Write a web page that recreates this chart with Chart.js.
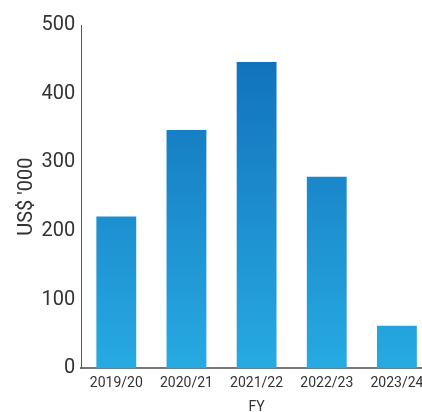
<!DOCTYPE html>
<html>
<head>
<meta charset="utf-8">
<script src="https://cdn.jsdelivr.net/npm/chart.js@4"></script>
<style>
  html, body { margin: 0; padding: 0; background: #fff; overflow: hidden; }
  #wrap { position: relative; width: 432px; height: 416px; }
</style>
</head>
<body>
<div id="wrap"><canvas id="chart"></canvas></div>
<script>
// 数据
const years = ['2019/20', '2020/21', '2021/22', '2022/23', '2023/24'];
const amounts = [221, 347, 446, 279, 62];
const yTicks = [0, 100, 200, 300, 400, 500];

// 按绘图区高度渐变：底部浅蓝，顶部深蓝
function barGradient(context) {
    const chart = context.chart;
    const area = chart.chartArea;
    if (!area) {
        return '#2196d5';
    }
    const g = chart.ctx.createLinearGradient(0, area.bottom, 0, area.top);
    g.addColorStop(0, '#27aae2');
    g.addColorStop(1, '#0f6cb8');
    return g;
}

new Chart(document.getElementById('chart'), {
    type: 'bar',
    data: {
        labels: years,
        datasets: [{
            data: amounts,
            backgroundColor: barGradient,
            borderWidth: 0,
            barPercentage: 0.8,
            categoryPercentage: 0.71
        }]
    },
    options: {
        responsive: true,
        maintainAspectRatio: false,
        animation: false,
        layout: { padding: { top: 25, left: 15, right: 0, bottom: 0 } },
        plugins: { legend: { display: false }, tooltip: { enabled: false } },
        scales: {
            x: {
                grid: { display: false, drawTicks: false },
                border: { display: true, color: '#777', width: 2 },
                ticks: { color: '#333', font: { family: 'Roboto', size: 14 }, padding: 7, maxRotation: 0 },
                title: { display: true, text: 'FY', color: '#333', font: { family: 'Roboto', size: 14 }, padding: { top: 0, bottom: 0 } }
            },
            y: {
                min: 0,
                max: 500,
                afterBuildTicks: function(axis) {
                    axis.ticks = yTicks.map(v => ({ value: v }));
                },
                grid: { display: false, drawTicks: false },
                border: { display: true, color: '#555', width: 1 },
                ticks: { color: '#333', font: { family: 'Roboto', size: 20 }, padding: 6 },
                title: { display: true, text: "US$ '000", color: '#333', font: { family: 'Roboto', size: 20 }, padding: { top: 0, bottom: -3.5 } }
            }
        }
    }
});
</script>
</body>
</html>
